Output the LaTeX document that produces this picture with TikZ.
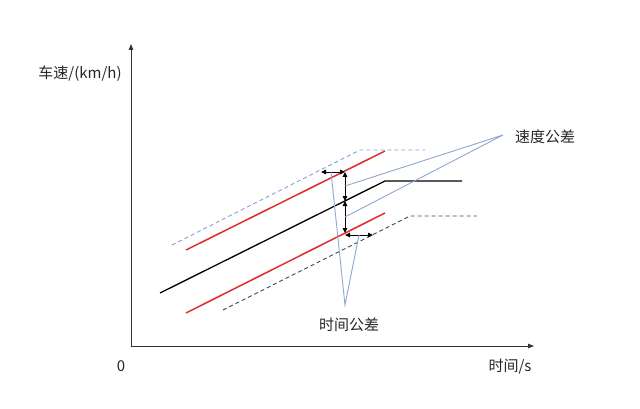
\documentclass[tikz,border=0pt]{standalone}
\usepackage{fontspec}
\setmainfont{Noto Sans CJK SC}
\usetikzlibrary{arrows.meta}
\definecolor{redline}{RGB}{222,45,45}
\definecolor{bluecall}{RGB}{140,168,210}
\definecolor{bluedash}{RGB}{130,160,210}
\definecolor{graydash}{RGB}{70,70,70}
\tikzset{
  lbl/.style={inner sep=0pt, font=\fontsize{15}{17}\selectfont, text=black!85},
  axisline/.style={line width=0.8pt, black!80, -{Triangle[length=6pt,width=4.5pt]}},
  refline/.style={line width=1.3pt, black},
  tolred/.style={line width=1.5pt, redline},
  dashblue/.style={line width=0.9pt, bluedash, dash pattern=on 4pt off 3pt},
  dashgray/.style={line width=0.9pt, graydash, dash pattern=on 4pt off 3pt},
  callout/.style={line width=0.9pt, bluecall},
  dim/.style={line width=0.9pt, black, {Triangle[length=5pt,width=4.5pt]}-{Triangle[length=5pt,width=4.5pt]}}
}
\begin{document}
\begin{tikzpicture}[x=1pt,y=-1pt]
\useasboundingbox (0,0) rectangle (640,409);
% axes
\coordinate (O) at (131,346);
\coordinate (ytop) at (131,44);
\coordinate (xend) at (534,346);
\draw[axisline] (O) -- (ytop);
\draw[axisline] (O) -- (xend);
\node[lbl] (ylab) at (80,74) {车速/(km/h)};
\node[lbl] (zero) at (121,366) {0};
\node[lbl] (xlab) at (510,367) {时间/s};
% dashed outer tolerance lines
\coordinate (bd1) at (172,245);
\coordinate (bd2) at (360,150);
\coordinate (bd3) at (425,150);
\draw[dashblue] (bd1) -- (bd2) -- (bd3);
\coordinate (gd1) at (223,310);
\coordinate (gd2) at (410,216);
\coordinate (gd3) at (477,216);
\draw[dashgray] (gd1) -- (gd2) -- (gd3);
% red tolerance lines
\coordinate (ru1) at (186,250);
\coordinate (ru2) at (385,151);
\draw[tolred] (ru1) -- (ru2);
\coordinate (rl1) at (186,313);
\coordinate (rl2) at (385,213);
\draw[tolred] (rl1) -- (rl2);
% reference speed line
\coordinate (k1) at (160,293);
\coordinate (k2) at (385,181);
\coordinate (k3) at (462,181);
\draw[refline] (k1) -- (k2) -- (k3);
% dimension arrows
\coordinate (vU) at (345,172);
\coordinate (vM) at (345,201);
\coordinate (vL) at (345,233);
\coordinate (hUl) at (321,172);
\coordinate (hLr) at (373,235);
\coordinate (hLl) at (345,235);
\draw[dim] (vU) -- (vM);
\draw[dim] (vM) -- (vL);
\draw[dim] (hUl) -- (vU);
\draw[dim] (hLl) -- (hLr);
% callouts
\node[lbl] (speedtol) at (545,137) {速度公差};
\node[lbl] (timetol) at (349,325) {时间公差};
\coordinate (sp) at (503,135);
\coordinate (tp) at (345,305);
\coordinate (cv1) at (345,186);
\coordinate (cv2) at (345,217);
\coordinate (ch1) at (331,172);
\coordinate (ch2) at (359,235);
\draw[callout] (cv1) -- (sp) -- (cv2);
\draw[callout] (ch1) -- (tp) -- (ch2);
\end{tikzpicture}
\end{document}
